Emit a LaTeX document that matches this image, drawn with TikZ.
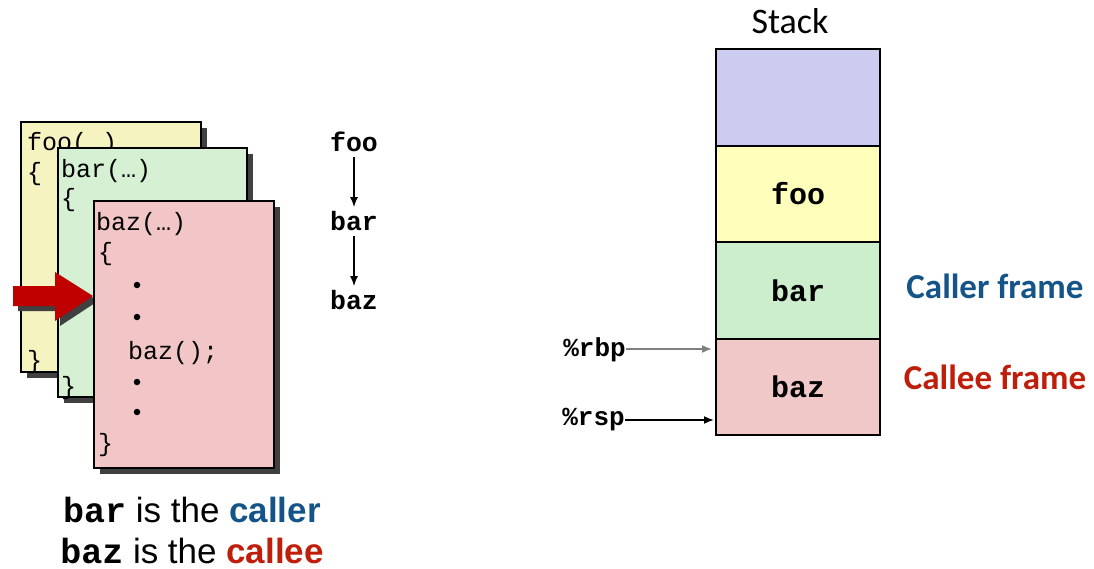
\documentclass[tikz,border=0pt]{standalone}
\usepackage{fontspec}
\setmainfont{Liberation Sans}
\setmonofont{Liberation Mono}
\newfontfamily\calibri{Carlito}
\usetikzlibrary{arrows.meta}
\definecolor{fooc}{RGB}{245,243,192}
\definecolor{barc}{RGB}{214,240,211}
\definecolor{bazc}{RGB}{242,198,198}
\definecolor{stop}{RGB}{203,204,240}
\definecolor{sfoo}{RGB}{255,255,187}
\definecolor{sbar}{RGB}{204,238,204}
\definecolor{sbaz}{RGB}{240,200,200}
\definecolor{shadowc}{RGB}{64,64,64}
\definecolor{redarrow}{RGB}{192,0,0}
\definecolor{callerblue}{RGB}{20,84,136}
\definecolor{calleered}{RGB}{190,30,10}
\tikzset{
  codebox/.style={draw=black,line width=1.2pt},
  codetext/.style={font=\fontsize{25}{25}\selectfont\ttfamily,anchor=base west,inner sep=0pt},
  bullet/.style={circle,fill=black,inner sep=0pt,minimum size=6.5pt},
  calltext/.style={font=\fontsize{26.5}{26.5}\selectfont\ttfamily\bfseries,inner sep=0pt},
  stackbox/.style={draw=black,line width=1.8pt,minimum width=164pt,minimum height=96.5pt,inner sep=0pt,font=\fontsize{30}{30}\selectfont\ttfamily\bfseries},
  reglabel/.style={font=\fontsize{26}{26}\selectfont\ttfamily\bfseries,inner sep=0pt,anchor=east},
  framelabel/.style={font=\fontsize{35}{35}\selectfont\calibri\bfseries},
  chain/.style={line width=1.5pt,-{Latex[length=10pt,width=8pt]},shorten <=5pt,shorten >=4pt},
  regarrow/.style={line width=1.7pt,-{Latex[length=10pt,width=8pt]}},
}
\begin{document}
\begin{tikzpicture}[x=1pt,y=-1pt]
\useasboundingbox (0,0) rectangle (1094,569);
% foo box
\fill[shadowc] (27,128) rectangle (207,378);
\filldraw[fill=fooc,codebox] (21,122) rectangle (201,372);
\node[codetext] (foot) at (27,151) {foo(…)};
\node[codetext] (foo1) at (27,181) {\{};
\node[codetext] (foo2) at (27,368) {\}};
% bar box
\fill[shadowc] (64,154) rectangle (253,403);
\filldraw[fill=barc,codebox] (58,148) rectangle (247,397);
\node[codetext] (bart) at (61,178) {bar(…)};
\node[codetext] (bar1) at (61,207) {\{};
\node[codetext] (bar2) at (61,394) {\}};
% red arrow
\fill[shadowc] (18,291)--(60,291)--(60,277)--(98,301)--(60,326)--(60,311)--(18,311)--cycle;
\fill[redarrow] (13,286)--(55,286)--(55,272)--(93,296)--(55,321)--(55,306)--(13,306)--cycle;
% baz box
\fill[shadowc] (100,207) rectangle (280,474);
\filldraw[fill=bazc,codebox] (94,201) rectangle (274,468);
\node[codetext] (bazt) at (96,231) {baz(…)};
\node[codetext] (baz1) at (98,261) {\{};
\node[bullet] (b1) at (137,285) {};
\node[bullet] (b2) at (137,317) {};
\node[codetext] (bazcall) at (128,359) {baz();};
\node[bullet] (b3) at (137,382) {};
\node[bullet] (b4) at (137,412) {};
\node[codetext] (baz2) at (98,451) {\}};
% call chain
\node[calltext] (cfoo) at (354,142) {foo};
\node[calltext] (cbar) at (354,221) {bar};
\node[calltext] (cbaz) at (354,300) {baz};
\draw[chain] (cfoo) -- (cbar);
\draw[chain] (cbar) -- (cbaz);
% bottom text
\node[font=\fontsize{35}{35}\selectfont] (l1) at (192,510) {\textbf{\ttfamily bar} is the \textbf{\color{callerblue}caller}};
\node[font=\fontsize{35}{35}\selectfont] (l2) at (192,551) {\textbf{\ttfamily baz} is the \textbf{\color{calleered}callee}};
% stack
\node[font=\fontsize{36}{36}\selectfont\calibri] (stk) at (790,21) {Stack};
\node[stackbox,fill=stop] (s0) at (798,97.5) {};
\node[stackbox,fill=sfoo] (s1) at (798,194) {foo};
\node[stackbox,fill=sbar] (s2) at (798,290.5) {bar};
\node[stackbox,fill=sbaz] (s3) at (798,387) {baz};
\node[framelabel,text=callerblue] (caller) at (995,286) {Caller frame};
\node[framelabel,text=calleered] (callee) at (995,377) {Callee frame};
% registers
\node[reglabel] (rbp) at (626,350) {\%rbp};
\node[reglabel] (rsp) at (625,420) {\%rsp};
\coordinate (rbpend) at (712,349);
\coordinate (rspend) at (714,420);
\draw[regarrow,gray] (rbp.east |- rbpend) -- (rbpend);
\draw[regarrow,black] (rsp.east |- rspend) -- (rspend);
\end{tikzpicture}
\end{document}
